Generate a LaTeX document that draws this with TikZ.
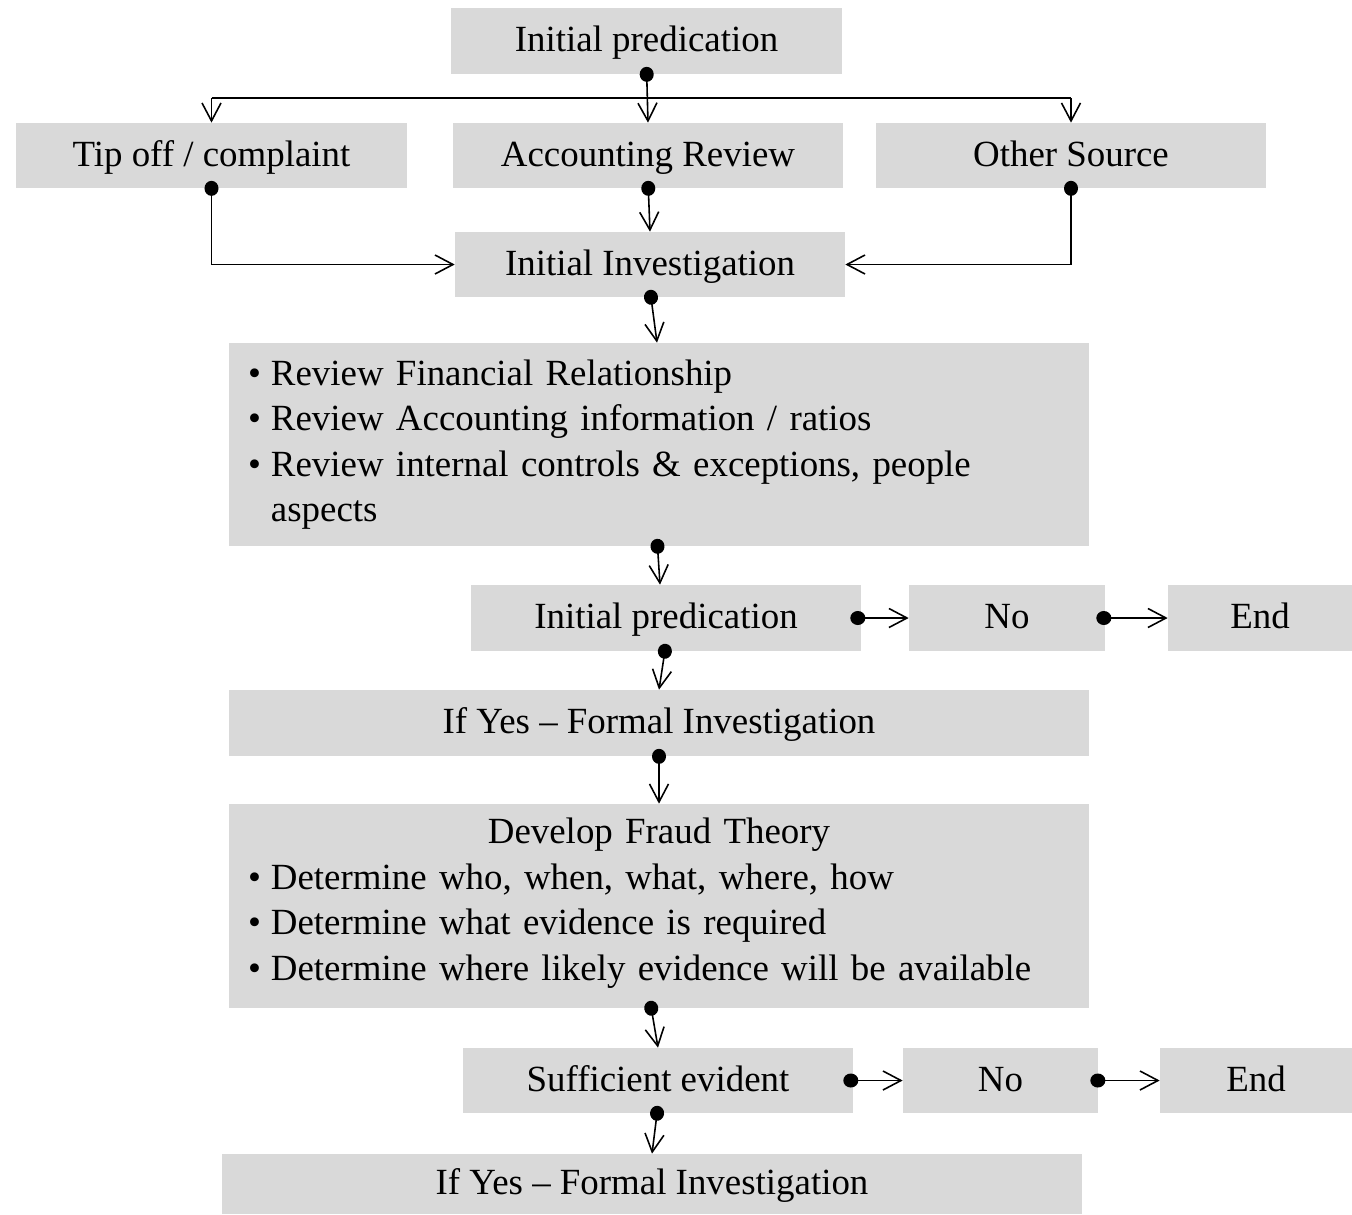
\documentclass[tikz,border=0pt]{standalone}
\usepackage{fontspec}
\setmainfont{Liberation Serif}
\usetikzlibrary{arrows.meta}
\definecolor{boxgray}{RGB}{217,217,217}
\begin{document}
\begin{tikzpicture}[x=0.02cm,y=-0.02cm,
  box/.style={fill=boxgray,inner sep=0pt,font=\fontsize{21}{25.8}\selectfont},
  one/.style={box,text height=16.5pt,text depth=4.1pt},
  conn/.style={line width=0.9pt,{Circle[length=0.3cm,width=0.28cm]}-{Straight Barb[length=0.36cm,width=0.38cm,line width=0.9pt]}},
  plainln/.style={line width=0.9pt},
  arr/.style={line width=0.9pt,-{Straight Barb[length=0.36cm,width=0.38cm,line width=0.9pt]}}]
\useasboundingbox (0,0) rectangle (1352,1214);
\node[one,minimum width=7.82cm,minimum height=1.32cm] (init) at (646.5,41) {Initial predication};
\node[one,minimum width=7.82cm,minimum height=1.30cm] (tip) at (211.5,155.5) {Tip off / complaint};
\node[one,minimum width=7.80cm,minimum height=1.30cm] (acc) at (648,155.5) {Accounting Review};
\node[one,minimum width=7.80cm,minimum height=1.30cm] (other) at (1071,155.5) {Other Source};
\node[one,minimum width=7.80cm,minimum height=1.30cm] (iinv) at (650,264.5) {Initial Investigation};
\node[box,minimum width=17.2cm,minimum height=4.06cm,text width=16.44cm,inner xsep=0.38cm] (review) at (659,444.5)
  {\begin{tabular}{@{}l@{\hspace{0.2cm}}l@{}}
  \textbullet & Review Financial Relationship\\
  \textbullet & Review Accounting information / ratios\\
  \textbullet & Review internal controls \& exceptions, people\\
   & aspects
  \end{tabular}};
\node[one,minimum width=7.80cm,minimum height=1.32cm] (ip2) at (666,618) {Initial predication};
\node[one,minimum width=3.92cm,minimum height=1.32cm] (no1) at (1007,618) {No};
\node[one,minimum width=3.68cm,minimum height=1.32cm] (end1) at (1260,618) {End};
\node[one,minimum width=17.2cm,minimum height=1.32cm] (fi1) at (659,723) {If Yes -- Formal Investigation};
\node[box,minimum width=17.2cm,minimum height=4.08cm,text width=16.44cm,inner xsep=0.38cm] (dev) at (659,906)
  {{\centering Develop Fraud Theory\par}\vspace{0.08cm}
  \begin{tabular}{@{}l@{\hspace{0.2cm}}l@{}}
  \textbullet & Determine who, when, what, where, how\\
  \textbullet & Determine what evidence is required\\
  \textbullet & Determine where likely evidence will be available
  \end{tabular}};
\node[one,minimum width=7.80cm,minimum height=1.30cm] (suff) at (658,1080.5) {Sufficient evident};
\node[one,minimum width=3.90cm,minimum height=1.30cm] (no2) at (1000.5,1080.5) {No};
\node[one,minimum width=3.84cm,minimum height=1.30cm] (end2) at (1256,1080.5) {End};
\node[one,minimum width=17.2cm,minimum height=1.20cm] (fi2) at (652,1184) {If Yes -- Formal Investigation};
\coordinate (hb) at (647,98);
% top fan-out
\draw[conn] ([yshift=0.15cm]init.south) -- (acc.north);
\draw[plainln] (tip.north |- hb) -- (other.north |- hb);
\draw[arr] (tip.north |- hb) -- (tip.north);
\draw[arr] (other.north |- hb) -- (other.north);
% into initial investigation
\draw[conn] ([yshift=0.15cm]tip.south) |- (iinv.west);
\draw[conn] ([yshift=0.15cm]other.south) |- (iinv.east);
\draw[conn] ([yshift=0.15cm]acc.south) -- (iinv.north);
\draw[conn] ([yshift=0.15cm]iinv.south) -- ([xshift=-0.04cm]review.north);
\draw[conn] ([xshift=-0.04cm,yshift=0.15cm]review.south) -- ([xshift=-0.12cm]ip2.north);
\draw[conn] ([yshift=0.15cm]ip2.south) -- (fi1.north);
\draw[conn] ([xshift=-0.22cm]ip2.east) -- (no1.west);
\draw[conn] ([xshift=-0.18cm]no1.east) -- (end1.west);
\draw[conn] ([yshift=0.15cm]fi1.south) -- (dev.north);
\draw[conn] ([xshift=-0.18cm,yshift=0.15cm]dev.south) -- (suff.north);
\draw[conn] ([xshift=-0.20cm]suff.east) -- (no2.west);
\draw[conn] ([xshift=-0.16cm]no2.east) -- (end2.west);
\draw[conn] ([yshift=0.15cm]suff.south) -- (fi2.north);
\end{tikzpicture}
\end{document}
